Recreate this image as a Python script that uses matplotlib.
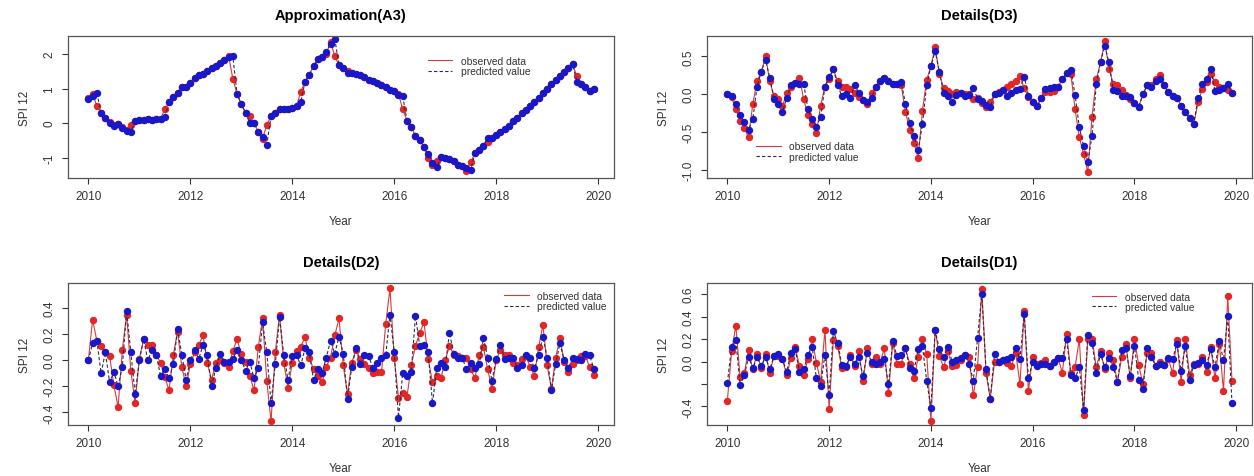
#Observed vs predicted SPI 12 wavelet components.

#Importing packages to use required functions.
import numpy as np
import matplotlib
matplotlib.use("Agg")
import matplotlib.pyplot as plt

#Selecting the font to be used in the figure.
plt.rcParams['font.family'] = ['Liberation Sans', 'DejaVu Sans']

#Monthly time axis, Jan 2010 to Dec 2019.
months = 2010 + np.arange(120) / 12.0

#Approximation A3.
obs_a3 = [0.72, 0.85, 0.50, 0.28, 0.15, 0.03, -0.05, -0.02, -0.12, -0.20, -0.05, 0.05,
          0.08, 0.10, 0.12, 0.10, 0.12, 0.13, 0.40, 0.60, 0.75, 0.87, 1.05, 1.05,
          1.15, 1.30, 1.40, 1.42, 1.50, 1.58, 1.65, 1.75, 1.82, 1.95, 1.29, 0.84,
          0.55, 0.30, 0.20, 0.00, -0.25, -0.45, -0.05, 0.20, 0.28, 0.42, 0.40, 0.40,
          0.45, 0.50, 0.90, 1.20, 1.40, 1.65, 1.85, 1.90, 2.00, 2.35, 1.94, 1.67,
          1.60, 1.50, 1.46, 1.42, 1.38, 1.32, 1.25, 1.22, 1.15, 1.10, 1.05, 0.97,
          0.92, 0.85, 0.40, 0.07, -0.12, -0.37, -0.48, -0.70, -1.00, -1.20, -1.10, -0.98,
          -1.00, -1.04, -1.10, -1.20, -1.25, -1.38, -1.13, -0.87, -0.78, -0.65, -0.55, -0.42,
          -0.35, -0.27, -0.17, -0.08, 0.05, 0.15, 0.30, 0.38, 0.48, 0.62, 0.74, 0.88,
          1.00, 1.12, 1.25, 1.36, 1.47, 1.60, 1.70, 1.35, 1.12, 1.05, 0.93, 1.00]
pred_a3 = [0.70, 0.78, 0.88, 0.28, 0.15, 0.00, -0.07, -0.02, -0.15, -0.22, -0.25, 0.05,
           0.08, 0.10, 0.12, 0.10, 0.12, 0.13, 0.18, 0.60, 0.75, 0.87, 1.05, 1.05,
           1.15, 1.30, 1.40, 1.42, 1.50, 1.58, 1.65, 1.75, 1.82, 1.92, 1.94, 0.84,
           0.55, 0.30, 0.00, 0.00, -0.25, -0.40, -0.62, 0.20, 0.28, 0.42, 0.40, 0.40,
           0.45, 0.50, 0.60, 1.20, 1.40, 1.65, 1.85, 1.90, 2.05, 2.30, 2.44, 1.67,
           1.60, 1.45, 1.46, 1.42, 1.38, 1.32, 1.25, 1.22, 1.15, 1.10, 1.03, 0.97,
           0.92, 0.80, 0.78, 0.07, -0.12, -0.37, -0.48, -0.70, -0.90, -1.15, -1.28, -0.98,
           -1.00, -1.04, -1.10, -1.20, -1.25, -1.30, -1.35, -0.87, -0.78, -0.65, -0.42, -0.42,
           -0.35, -0.27, -0.17, -0.08, 0.05, 0.15, 0.30, 0.38, 0.48, 0.62, 0.74, 0.88,
           1.00, 1.12, 1.25, 1.36, 1.47, 1.60, 1.70, 1.20, 1.12, 1.05, 0.93, 1.00]

#Details D3.
obs_d3 = [0.00, -0.04, -0.20, -0.35, -0.45, -0.57, -0.13, 0.17, 0.30, 0.50, 0.17, -0.02,
          -0.07, -0.16, 0.02, 0.10, 0.15, 0.22, -0.07, -0.27, -0.39, -0.52, -0.15, 0.10,
          0.20, 0.33, 0.17, 0.10, 0.09, 0.07, 0.02, -0.04, -0.08, -0.13, 0.02, 0.10,
          0.17, 0.22, 0.17, 0.13, 0.14, 0.12, -0.23, -0.48, -0.65, -0.84, -0.22, 0.19,
          0.37, 0.62, 0.27, 0.08, 0.04, 0.00, 0.03, 0.02, 0.00, 0.00, -0.06, -0.05,
          -0.12, -0.17, -0.10, 0.00, 0.03, 0.06, 0.10, 0.13, 0.17, 0.24, 0.08, -0.04,
          -0.10, -0.16, -0.05, 0.03, 0.03, 0.04, 0.10, 0.20, 0.28, 0.27, -0.20, -0.57,
          -0.79, -1.03, -0.30, 0.20, 0.42, 0.70, 0.33, 0.14, 0.12, 0.05, -0.01, -0.06,
          -0.12, -0.17, 0.00, 0.12, 0.12, 0.20, 0.26, 0.12, 0.03, -0.02, -0.05, -0.15,
          -0.24, -0.31, -0.39, -0.11, 0.07, 0.16, 0.27, 0.16, 0.09, 0.08, 0.05, 0.01]
pred_d3 = [0.00, -0.02, -0.13, -0.27, -0.37, -0.47, -0.33, 0.10, 0.30, 0.45, 0.22, -0.07,
           -0.13, -0.23, -0.05, 0.12, 0.15, 0.14, 0.14, -0.20, -0.33, -0.43, -0.30, 0.10,
           0.23, 0.33, 0.12, -0.03, 0.00, -0.05, 0.12, 0.02, -0.08, -0.11, -0.05, 0.10,
           0.17, 0.22, 0.17, 0.13, 0.14, 0.16, -0.13, -0.38, -0.55, -0.74, -0.40, 0.12,
           0.37, 0.57, 0.30, 0.01, -0.03, -0.11, -0.01, 0.02, -0.02, -0.01, 0.08, -0.06,
           -0.09, -0.14, -0.17, 0.00, 0.02, 0.06, -0.03, 0.01, 0.06, 0.07, 0.23, -0.02,
           -0.10, -0.16, -0.05, 0.07, 0.08, 0.10, 0.10, 0.20, 0.28, 0.32, -0.01, -0.44,
           -0.68, -0.90, -0.55, 0.13, 0.42, 0.64, 0.42, 0.06, 0.04, -0.02, -0.03, -0.04,
           -0.12, -0.17, 0.00, 0.12, 0.09, 0.17, 0.20, 0.12, 0.03, -0.02, -0.05, -0.15,
           -0.24, -0.31, -0.39, -0.05, 0.13, 0.20, 0.33, 0.04, 0.05, 0.08, 0.13, 0.01]

#Details D2.
obs_d2 = [0.00, 0.31, 0.15, 0.11, 0.06, 0.03, -0.19, -0.36, 0.08, 0.35, -0.08, -0.33,
          0.01, 0.16, 0.12, 0.12, 0.04, -0.02, -0.13, -0.23, 0.04, 0.22, -0.05, -0.20,
          -0.03, 0.06, 0.12, 0.19, -0.02, -0.15, -0.02, 0.00, -0.02, -0.05, 0.07, 0.16,
          0.05, -0.01, -0.12, -0.23, 0.10, 0.32, -0.16, -0.47, 0.06, 0.35, -0.02, -0.21,
          -0.02, 0.07, 0.10, 0.18, 0.02, -0.07, -0.12, -0.17, -0.05, 0.02, 0.19, 0.32,
          -0.04, -0.26, -0.02, 0.08, 0.01, -0.03, -0.06, -0.10, -0.09, -0.09, 0.28, 0.55,
          0.02, -0.29, -0.25, -0.28, -0.04, 0.11, 0.21, 0.29, 0.01, -0.17, -0.12, -0.14,
          0.00, 0.11, 0.04, 0.03, 0.02, 0.02, -0.07, -0.14, 0.04, 0.10, -0.07, -0.22,
          0.00, 0.08, 0.04, 0.04, -0.02, -0.04, 0.01, 0.03, -0.05, -0.12, 0.10, 0.27,
          -0.04, -0.22, 0.02, 0.17, -0.01, -0.09, -0.03, 0.00, 0.03, 0.03, -0.05, -0.11]
pred_d2 = [0.00, 0.13, 0.15, -0.10, 0.06, -0.17, -0.09, -0.20, -0.05, 0.38, 0.06, -0.26,
           0.00, 0.16, 0.00, 0.08, 0.04, -0.12, -0.07, -0.14, -0.03, 0.24, 0.04, -0.15,
           0.00, 0.08, 0.01, 0.12, 0.04, -0.20, -0.06, 0.05, -0.01, -0.01, 0.01, 0.08,
           0.00, -0.08, -0.01, -0.14, -0.06, 0.29, 0.06, -0.33, -0.03, 0.33, 0.04, -0.15,
           0.03, 0.04, -0.04, 0.09, 0.06, -0.15, -0.07, -0.10, 0.02, 0.15, 0.05, 0.18,
           0.05, -0.30, -0.05, 0.09, -0.03, 0.04, 0.03, -0.06, -0.02, 0.02, 0.04, 0.35,
           0.06, -0.44, -0.10, -0.12, -0.09, 0.34, 0.11, 0.12, 0.06, -0.33, -0.06, -0.02,
           -0.05, 0.21, 0.05, 0.02, 0.02, -0.07, -0.02, -0.06, -0.03, 0.17, 0.02, -0.16,
           0.01, 0.12, 0.01, 0.02, 0.02, -0.06, -0.04, 0.04, 0.02, -0.06, 0.04, 0.18,
           0.02, -0.23, -0.03, 0.13, 0.00, -0.06, 0.02, 0.01, 0.00, 0.05, 0.04, -0.07]

#Details D1.
obs_d1 = [-0.35, 0.09, 0.32, -0.14, -0.10, 0.10, -0.07, 0.07, -0.06, 0.07, -0.10, 0.05,
          0.05, 0.02, -0.12, 0.03, 0.13, -0.04, -0.12, 0.02, 0.20, -0.01, -0.18, 0.28,
          -0.42, 0.19, 0.14, -0.06, -0.05, 0.06, -0.04, 0.09, -0.17, 0.12, -0.02, 0.04,
          -0.02, 0.12, -0.28, 0.17, -0.02, -0.02, 0.12, -0.02, -0.15, 0.04, 0.20, 0.07,
          -0.53, 0.28, 0.05, -0.05, 0.09, -0.04, -0.03, 0.01, 0.06, 0.04, -0.30, -0.05,
          0.65, -0.10, -0.33, 0.00, 0.00, 0.01, -0.01, -0.04, 0.08, -0.20, 0.45, -0.26,
          0.04, -0.02, -0.01, 0.01, -0.04, 0.00, 0.03, -0.10, 0.25, -0.10, -0.05, 0.20,
          -0.48, 0.20, 0.20, -0.05, 0.09, -0.07, 0.08, 0.01, -0.18, 0.04, 0.16, -0.15,
          0.20, -0.03, -0.20, 0.08, 0.08, -0.04, 0.00, -0.03, 0.02, -0.10, 0.19, -0.18,
          0.20, -0.12, -0.02, -0.02, 0.04, -0.09, 0.13, -0.15, 0.16, -0.26, 0.58, -0.17]
pred_d1 = [-0.19, 0.13, 0.19, -0.21, -0.12, 0.04, -0.06, 0.04, -0.04, 0.04, -0.07, 0.05,
           0.07, 0.02, -0.09, 0.08, 0.11, -0.09, -0.07, 0.06, 0.13, -0.15, -0.22, 0.06,
           -0.30, 0.27, 0.17, -0.03, -0.04, 0.04, -0.02, 0.04, -0.13, 0.08, 0.00, -0.02,
           0.00, 0.02, -0.20, 0.18, 0.05, 0.06, 0.12, -0.06, -0.08, 0.11, 0.14, -0.17,
           -0.41, 0.28, 0.11, 0.04, 0.13, 0.00, 0.01, 0.03, 0.06, -0.02, -0.17, 0.21,
           0.60, -0.07, -0.33, 0.07, 0.00, 0.01, 0.02, 0.04, 0.12, 0.02, 0.42, -0.15,
           0.00, -0.04, -0.02, -0.02, -0.04, 0.00, 0.03, 0.03, 0.20, -0.12, -0.15, -0.05,
           -0.43, 0.24, 0.17, -0.10, 0.07, -0.05, 0.03, -0.05, -0.18, 0.10, 0.12, -0.13,
           0.14, -0.16, -0.24, 0.12, 0.04, -0.04, -0.02, -0.03, 0.03, 0.02, 0.16, -0.08,
           0.14, -0.16, -0.03, -0.01, 0.01, -0.03, 0.11, -0.05, 0.18, 0.01, 0.41, -0.37]

#Titles, tick values and legend spots for each panel.
titles = ["Approximation(A3)", "Details(D3)", "Details(D2)", "Details(D1)"]
observed = [obs_a3, obs_d3, obs_d2, obs_d1]
predicted = [pred_a3, pred_d3, pred_d2, pred_d1]
yticks = [[-1, 0, 1, 2], [-1.0, -0.5, 0.0, 0.5], [-0.4, -0.2, 0.0, 0.2, 0.4],
          [-0.4, -0.2, 0.0, 0.2, 0.4, 0.6]]
ylabels = [["-1", "0", "1", "2"], ["-1.0", "-0.5", "0.0", "0.5"],
           ["-0.4", "-0.2", "0.0", "0.2", "0.4"], ["-0.4", "", "0.0", "0.2", "0.4", "0.6"]]
ylims = [(-1.59, 2.52), (-1.11, 0.77), (-0.497, 0.592), (-0.565, 0.70)]
legend_spots = [(0.659, 0.86), (0.09, 0.26), (0.799, 0.945), (0.706, 0.94)]

#Axes positions in figure fraction [left, bottom, width, height].
positions = [[0.0542, 0.6247, 0.4354, 0.2977], [0.5638, 0.6247, 0.4346, 0.2977],
             [0.0542, 0.1069, 0.4354, 0.2977], [0.5638, 0.1069, 0.4346, 0.2977]]

fig = plt.figure(figsize=(12.54, 4.77), dpi=100)

for k in range(4):
    ax = fig.add_axes(positions[k])
    #Observed data, red solid line with red dots.
    ax.plot(months, observed[k], "-", color="#d93a3a", linewidth=0.8,
            marker="o", markersize=4.3, markerfacecolor="#e32626", markeredgecolor="#e32626",
            label="observed data")
    #Predicted value, dark dashed line with blue dots.
    ax.plot(months, predicted[k], "--", color="#2a2a52", linewidth=0.8, dashes=(3, 2),
            marker="o", markersize=4.3, markerfacecolor="#1818c8", markeredgecolor="#1818c8",
            label="predicted value")
    ax.set_xlim(2009.60, 2020.31)
    ax.set_ylim(*ylims[k])
    ax.set_xticks([2010, 2012, 2014, 2016, 2018, 2020])
    ax.set_yticks(yticks[k])
    ax.set_yticklabels(ylabels[k], rotation=90, va="center")
    ax.tick_params(direction="out", length=4.3, width=0.8, labelsize=8.5, pad=4,
                   colors="#333333")
    ax.tick_params(axis="y", pad=5)
    for sp in ax.spines.values():
        sp.set_color("#555555")
        sp.set_linewidth(0.9)
    #Giving a title to the graph.
    ax.set_title(titles[k], fontsize=10.5, fontweight="bold", pad=12)
    #Labeling the axes.
    ax.set_xlabel("Year", fontsize=8.5, labelpad=10, color="#333333")
    ax.set_ylabel("SPI 12", fontsize=8.5, labelpad=9, color="#333333")
    #Legend with no frame.
    leg = ax.legend(loc="upper left", bbox_to_anchor=legend_spots[k], frameon=False,
                    fontsize=7.4, handlelength=2.4, handletextpad=0.8, labelspacing=0.05,
                    borderpad=0, borderaxespad=0, labelcolor="#333333")
    for h in leg.get_lines():
        h.set_marker("")

#Figure saved.
fig.savefig("out.png", dpi=100)
